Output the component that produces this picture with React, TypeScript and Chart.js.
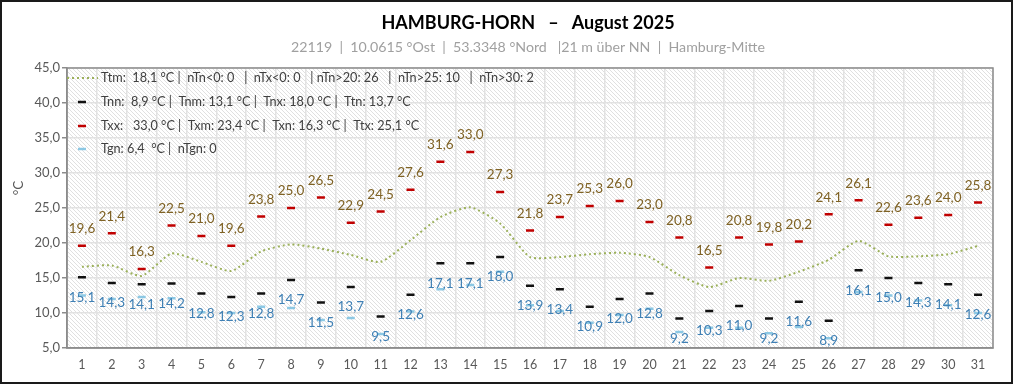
import { useEffect, useRef } from 'react';
import { Chart, registerables } from 'chart.js';

Chart.register(...registerables);

const FONT = 'Lato, "Open Sans", "DejaVu Sans", sans-serif';

const dayLabels = ['1','2','3','4','5','6','7','8','9','10','11','12','13','14','15','16','17','18','19','20','21','22','23','24','25','26','27','28','29','30','31'];

const tMean = [16.6,16.8,15.3,18.5,17.3,16.0,18.8,19.8,19.2,18.3,17.3,20.4,23.7,25.1,22.8,18.0,18.0,18.4,18.6,18.0,15.4,13.7,15.0,14.6,15.9,17.6,20.3,18.1,18.1,18.4,19.6];
const tMax = [19.6,21.4,16.3,22.5,21.0,19.6,23.8,25.0,26.5,22.9,24.5,27.6,31.6,33.0,27.3,21.8,23.7,25.3,26.0,23.0,20.8,16.5,20.8,19.8,20.2,24.1,26.1,22.6,23.6,24.0,25.8];
const tMin = [15.1,14.3,14.1,14.2,12.8,12.3,12.8,14.7,11.5,13.7,9.5,12.6,17.1,17.1,18.0,13.9,13.4,10.9,12.0,12.8,9.2,10.3,11.0,9.2,11.6,8.9,16.1,15.0,14.3,14.1,12.6];
const tGround = [12.5,12.0,12.3,12.1,10.1,10.0,10.9,10.7,9.0,9.3,7.0,10.2,13.4,14.0,15.9,11.1,10.3,8.6,9.7,10.6,7.3,7.9,7.9,7.1,8.0,6.4,13.0,12.5,11.8,11.1,10.0];

const yMin = 5;
const yMax = 45;
const yStep = 5;

const titleText = 'HAMBURG-HORN   \u2013   August 2025';
const subtitleText = '22119  |  10.0615 \u00b0Ost  |  53.3348 \u00b0Nord   |21 m \u00fcber NN  |  Hamburg-Mitte';
const yAxisTitle = '\u00b0C';
const legendLines = [
  'Ttm:  18,1 \u00b0C |  nTn<0: 0   |  nTx<0: 0   | nTn>20: 26   |  nTn>25: 10   |  nTn>30: 2',
  'Tnn:  8,9 \u00b0C |  Tnm: 13,1 \u00b0C |  Tnx: 18,0 \u00b0C |  Ttn: 13,7 \u00b0C',
  'Txx:   33,0 \u00b0C |  Txm: 23,4 \u00b0C |  Txn: 16,3 \u00b0C |  Ttx: 25,1 \u00b0C',
  'Tgn: 6,4  \u00b0C |  nTgn: 0',
];

const COL_MEAN = '#9BB05A';
const COL_MAX = '#C00000';
const COL_MIN = '#111111';
const COL_GROUND = '#8CC8E4';
const COL_MAX_LABEL = '#7F6224';
const COL_MIN_LABEL = '#3F80B5';

const fmt = (v: number) => v.toFixed(1).replace('.', ',');

function makeHatch(): CanvasPattern | string {
  const c = document.createElement('canvas');
  c.width = 4;
  c.height = 4;
  const g = c.getContext('2d');
  if (!g) return '#f2f2f2';
  g.fillStyle = '#ffffff';
  g.fillRect(0, 0, 4, 4);
  g.strokeStyle = '#e0e0e0';
  g.lineWidth = 1;
  g.beginPath();
  g.moveTo(-1, -1);
  g.lineTo(5, 5);
  g.stroke();
  const p = g.createPattern(c, 'repeat');
  return p || '#f2f2f2';
}

export default function App() {
  const ref = useRef<HTMLCanvasElement | null>(null);

  useEffect(() => {
    const canvas = ref.current;
    if (!canvas) return;
    const hatch = makeHatch();

    const bgPlugin = {
      id: 'bgPlugin',
      beforeDraw(chart: any) {
        const { ctx, chartArea: a, width, height } = chart;
        ctx.save();
        ctx.fillStyle = '#ffffff';
        ctx.fillRect(0, 0, width, height);
        ctx.fillStyle = hatch;
        ctx.fillRect(a.left, a.top, a.right - a.left, a.bottom - a.top);
        ctx.restore();
      },
    };

    const textPlugin = {
      id: 'textPlugin',
      afterDatasetsDraw(chart: any) {
        const { ctx, chartArea: a } = chart;
        const xs = chart.scales.x;
        const ys = chart.scales.y;
        ctx.save();
        // plot border
        ctx.strokeStyle = '#8c8c8c';
        ctx.lineWidth = 1.5;
        ctx.strokeRect(a.left, a.top, a.right - a.left, a.bottom - a.top);

        // outer frame
        ctx.strokeStyle = '#1a1a1a';
        ctx.lineWidth = 2;
        ctx.strokeRect(1, 1, 1011, 382);

        // data labels
        ctx.font = '13.5px ' + FONT;
        ctx.textAlign = 'center';
        ctx.textBaseline = 'middle';
        for (let i = 0; i < dayLabels.length; i++) {
          const x = xs.getPixelForValue(i);
          ctx.fillStyle = COL_MAX_LABEL;
          ctx.fillText(fmt(tMax[i]), x, ys.getPixelForValue(tMax[i]) - 17);
          ctx.fillStyle = COL_MIN_LABEL;
          ctx.fillText(fmt(tMin[i]), x, ys.getPixelForValue(tMin[i]) + 20);
        }

        // legend
        const lx = a.left + 34;
        const rowsY = [a.top + 10, a.top + 34, a.top + 58, a.top + 81];
        ctx.textAlign = 'left';
        ctx.font = '12.7px ' + FONT;
        ctx.fillStyle = '#404040';
        legendLines.forEach((t, i) => ctx.fillText(t, lx, rowsY[i]));
        // legend markers
        ctx.strokeStyle = COL_MEAN;
        ctx.lineWidth = 2;
        ctx.setLineDash([2, 3]);
        ctx.beginPath();
        ctx.moveTo(a.left, rowsY[0]);
        ctx.lineTo(a.left + 31, rowsY[0]);
        ctx.stroke();
        ctx.setLineDash([]);
        const marks = [COL_MIN, COL_MAX, COL_GROUND];
        marks.forEach((c, i) => {
          ctx.strokeStyle = c;
          ctx.lineWidth = 2.5;
          ctx.beginPath();
          ctx.moveTo(a.left + 11, rowsY[i + 1]);
          ctx.lineTo(a.left + 19, rowsY[i + 1]);
          ctx.stroke();
        });

        // title and subtitle
        ctx.textAlign = 'center';
        ctx.fillStyle = '#000000';
        ctx.font = 'bold 18px ' + FONT;
        ctx.fillText(titleText, 528, 23);
        ctx.fillStyle = '#a0a0a0';
        ctx.font = '14.2px ' + FONT;
        ctx.fillText(subtitleText, 528, 47);

        // y axis title
        ctx.translate(19, 188);
        ctx.rotate(-Math.PI / 2);
        ctx.fillStyle = '#595959';
        ctx.font = '13.5px ' + FONT;
        ctx.fillText(yAxisTitle, 0, 0);
        ctx.restore();
      },
    };

    const dash = (color: string) => ({
      type: 'line' as const,
      showLine: false,
      pointStyle: 'line' as const,
      pointRadius: 4,
      pointHoverRadius: 4,
      pointBorderWidth: 2.5,
      borderColor: color,
      backgroundColor: color,
    });

    const chart = new Chart(canvas, {
      type: 'line',
      data: {
        labels: dayLabels,
        datasets: [
          { label: 'Tg', data: tGround, ...dash(COL_GROUND), order: 4 },
          { label: 'Tn', data: tMin, ...dash(COL_MIN), order: 3 },
          { label: 'Tx', data: tMax, ...dash(COL_MAX), order: 2 },
          {
            label: 'Tm',
            data: tMean,
            borderColor: COL_MEAN,
            borderWidth: 2,
            borderDash: [2, 3],
            pointRadius: 0,
            tension: 0.2,
            fill: false,
            order: 1,
          },
        ],
      },
      options: {
        responsive: false,
        animation: false,
        devicePixelRatio: 1,
        layout: { padding: { top: 68, right: 31, left: 0, bottom: 0 } },
        plugins: {
          legend: { display: false },
          title: { display: false },
          tooltip: { enabled: false },
        },
        scales: {
          x: {
            type: 'category',
            offset: true,
            grid: { offset: true, color: '#e2e2e2', lineWidth: 1.5, drawTicks: false },
            border: { color: '#8c8c8c', width: 1.5 },
            ticks: {
              color: '#595959',
              font: { family: FONT, size: 12.5 },
              padding: 9,
              maxRotation: 0,
              autoSkip: false,
            },
            afterFit: (s: any) => { s.height = 37; },
          },
          y: {
            min: yMin,
            max: yMax,
            grid: { color: '#e2e2e2', lineWidth: 1.5, tickLength: 5, tickColor: '#8c8c8c' },
            border: { color: '#8c8c8c', width: 1.5 },
            ticks: {
              stepSize: yStep,
              color: '#595959',
              font: { family: FONT, size: 13 },
              padding: 2,
              callback: (v: any) => fmt(Number(v)),
            },
            afterFit: (s: any) => { s.width = 67; },
          },
        },
      },
      plugins: [bgPlugin, textPlugin],
    });

    return () => chart.destroy();
  }, []);

  return (
    <div style={{ position: 'absolute', left: 0, top: 0, width: 1024, height: 385 }}>
      <canvas ref={ref} width={1024} height={385} style={{ display: 'block', width: 1024, height: 385 }} />
    </div>
  );
}
